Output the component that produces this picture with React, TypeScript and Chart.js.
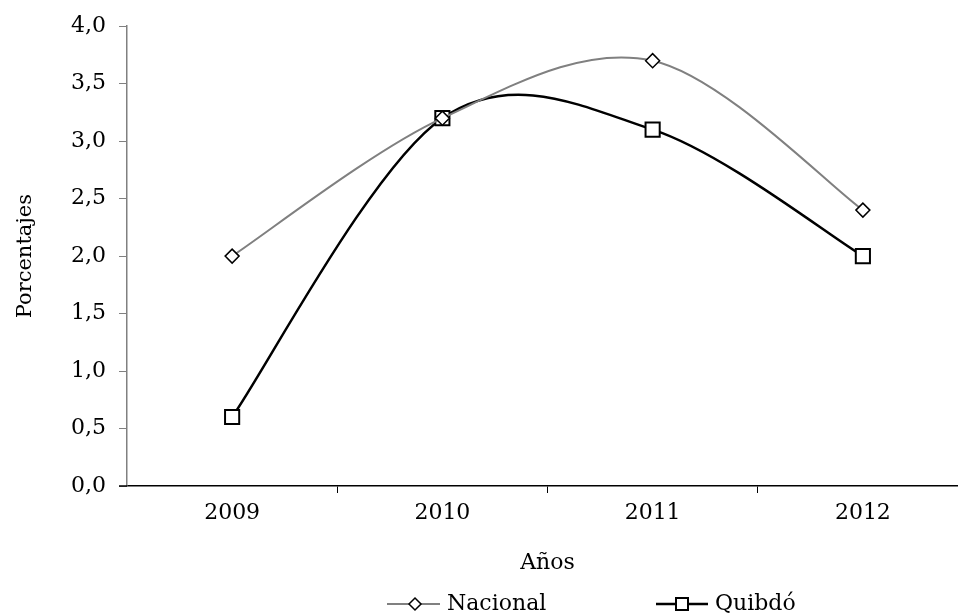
import React, { useEffect, useRef } from "react";
import { Chart, registerables } from "chart.js";

Chart.register(...registerables);

const years = ["2009", "2010", "2011", "2012"];
const nacional = [2.0, 3.2, 3.7, 2.4];
const quibdo = [0.6, 3.2, 3.1, 2.0];
const yTitle = "Porcentajes";
const xTitle = "Años";
const seriesNames = ["Nacional", "Quibdó"];

const FONT = "'DejaVu Serif', 'Liberation Serif', serif";

// Excel-style smoothing (Catmull-Rom, 1/6 tangents) applied to the points Chart.js placed
const excelSmooth = {
  id: "excelSmooth",
  beforeDatasetDraw(chart: any, args: any) {
    const meta = args.meta;
    const line = meta.dataset;
    if (!line) return;
    line.updateControlPoints(chart.chartArea, meta.iScale.axis);
    const pts = meta.data;
    const n = pts.length;
    for (let i = 0; i < n; i++) {
      const p = pts[i];
      const prev = pts[Math.max(0, i - 1)];
      const next = pts[Math.min(n - 1, i + 1)];
      const tx = (next.x - prev.x) / 6;
      const ty = (next.y - prev.y) / 6;
      p.cp1x = p.x - tx;
      p.cp1y = p.y - ty;
      p.cp2x = p.x + tx;
      p.cp2y = p.y + ty;
    }
    line._path = undefined;
  },
};

const legendPlugin = {
  id: "customLegend",
  afterDraw(chart: any) {
    const { ctx, chartArea } = chart;
    const L = chartArea.left;
    const y = chartArea.bottom + 118;
    ctx.save();
    // extend x-axis line over the 0 tick like the original
    ctx.strokeStyle = "#000";
    ctx.lineWidth = 1.5;
    ctx.beginPath();
    ctx.moveTo(L - 8, chartArea.bottom);
    ctx.lineTo(L, chartArea.bottom);
    ctx.stroke();

    ctx.font = `22px ${FONT}`;
    ctx.textBaseline = "middle";
    ctx.textAlign = "left";
    // Nacional
    let x0 = L + 260;
    ctx.strokeStyle = "#808080";
    ctx.lineWidth = 2;
    ctx.beginPath();
    ctx.moveTo(x0, y);
    ctx.lineTo(x0 + 53, y);
    ctx.stroke();
    const dx = x0 + 28;
    ctx.beginPath();
    ctx.moveTo(dx - 6, y);
    ctx.lineTo(dx, y - 6);
    ctx.lineTo(dx + 6, y);
    ctx.lineTo(dx, y + 6);
    ctx.closePath();
    ctx.fillStyle = "#fff";
    ctx.fill();
    ctx.strokeStyle = "#000";
    ctx.lineWidth = 1.5;
    ctx.stroke();
    ctx.fillStyle = "#000";
    ctx.fillText(seriesNames[0], x0 + 60, y);
    // Quibdó
    x0 = L + 529;
    ctx.strokeStyle = "#000";
    ctx.lineWidth = 2.5;
    ctx.beginPath();
    ctx.moveTo(x0, y);
    ctx.lineTo(x0 + 52, y);
    ctx.stroke();
    const sx = x0 + 26;
    ctx.fillStyle = "#fff";
    ctx.fillRect(sx - 6, y - 6, 12, 12);
    ctx.lineWidth = 2;
    ctx.strokeRect(sx - 6, y - 6, 12, 12);
    ctx.fillStyle = "#000";
    ctx.fillText(seriesNames[1], x0 + 59, y);
    ctx.restore();
  },
};

export default function App() {
  const ref = useRef<HTMLCanvasElement>(null);
  useEffect(() => {
    if (!ref.current) return;
    const chart = new Chart(ref.current, {
      type: "line",
      data: {
        labels: years,
        datasets: [
          {
            label: seriesNames[0],
            data: nacional,
            borderColor: "#808080",
            borderWidth: 2,
            tension: 0.4,
            pointStyle: "rectRot",
            pointRadius: 7,
            pointBackgroundColor: "#fff",
            pointBorderColor: "#000",
            pointBorderWidth: 1.5,
          },
          {
            label: seriesNames[1],
            data: quibdo,
            borderColor: "#000",
            borderWidth: 2.5,
            tension: 0.4,
            pointStyle: "rect",
            pointRadius: 10,
            pointBackgroundColor: "#fff",
            pointBorderColor: "#000",
            pointBorderWidth: 2,
          },
        ],
      },
      options: {
        responsive: false,
        animation: false,
        devicePixelRatio: 1,
        layout: { padding: { top: 25, right: 7, bottom: 0, left: 0 } },
        plugins: {
          legend: { display: false },
          tooltip: { enabled: false },
        },
        scales: {
          x: {
            offset: true,
            grid: {
              offset: true,
              drawOnChartArea: false,
              tickLength: 7,
              color: (c: any) => (c.index === 0 ? "rgba(0,0,0,0)" : "#000"),
            },
            border: { color: "#000", width: 1.5 },
            ticks: { color: "#000", padding: 7, font: { family: FONT, size: 22 } },
            title: {
              display: true,
              text: xTitle,
              color: "#000",
              font: { family: FONT, size: 22 },
              padding: { top: 0, bottom: 38 },
            },
            afterFit: (s: any) => {
              s.height = 128;
            },
          },
          y: {
            min: 0,
            max: 4,
            grid: { drawOnChartArea: false, tickLength: 8, color: "#808080" },
            border: { color: "#808080", width: 1.5 },
            ticks: {
              stepSize: 0.5,
              color: "#000",
              padding: 13,
              font: { family: FONT, size: 22 },
              callback: (v: any) => Number(v).toFixed(1).replace(".", ","),
            },
            title: {
              display: true,
              text: yTitle,
              color: "#000",
              font: { family: FONT, size: 21 },
              padding: { top: 13, bottom: 0 },
            },
            afterFit: (s: any) => {
              s.width = 127;
            },
          },
        },
      },
      plugins: [excelSmooth, legendPlugin],
    });
    return () => chart.destroy();
  }, []);
  return (
    <div
      style={{
        position: "fixed",
        left: 0,
        top: 0,
        width: 958,
        height: 614,
        overflow: "hidden",
        background: "#fff",
      }}
    >
      <canvas ref={ref} width={980} height={614} style={{ width: 980, height: 614, display: "block" }} />
    </div>
  );
}
